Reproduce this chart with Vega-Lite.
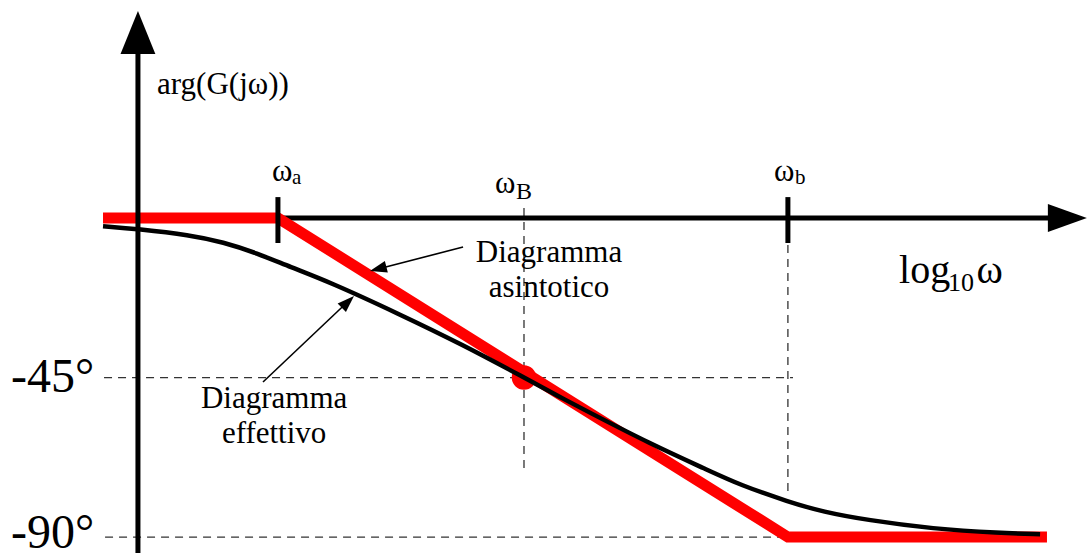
{
  "$schema": "https://vega.github.io/schema/vega-lite/v6.json",
  "width": 1087,
  "height": 553,
  "padding": 0,
  "autosize": {"type": "none"},
  "config": {"view": {"stroke": null}, "text": {"font": "Liberation Serif", "baseline": "alphabetic", "color": "#000000"}},
  "datasets": {
    "asym": [
      {"w": -1.651, "phase": 0},
      {"w": -0.965, "phase": 0},
      {"w": 1.035, "phase": -90},
      {"w": 2.051, "phase": -90}
    ],
    "real": [
      {"w": -1.651, "phase": -2.3},
      {"w": -1.514, "phase": -3.1},
      {"w": -1.31, "phase": -4.8},
      {"w": -1.18, "phase": -6.8},
      {"w": -1.047, "phase": -9.9},
      {"w": -0.918, "phase": -13.8},
      {"w": -0.761, "phase": -18.1},
      {"w": -0.498, "phase": -26.8},
      {"w": -0.239, "phase": -35.8},
      {"w": 0, "phase": -45},
      {"w": 0.141, "phase": -50.5},
      {"w": 0.239, "phase": -54.2},
      {"w": 0.498, "phase": -63.8},
      {"w": 0.718, "phase": -71.0},
      {"w": 0.847, "phase": -75.3},
      {"w": 1.039, "phase": -80.1},
      {"w": 1.173, "phase": -82.9},
      {"w": 1.345, "phase": -85.2},
      {"w": 1.604, "phase": -87.7},
      {"w": 1.867, "phase": -88.9},
      {"w": 2.024, "phase": -89.2}
    ],
    "axes": [
      {"w": -1.514, "phase": -94.5, "w2": -1.514, "phase2": 46.3},
      {"w": -1.514, "phase": 0, "w2": 2.063, "phase2": 0}
    ],
    "ticks": [
      {"w": -0.965, "phase": 5.9, "w2": -0.965, "phase2": -7.05},
      {"w": 1.035, "phase": 5.9, "w2": 1.035, "phase2": -7.05}
    ],
    "guides": [
      {"w": -1.647, "phase": -45, "w2": 1.055, "phase2": -45},
      {"w": -1.643, "phase": -90, "w2": 1.035, "phase2": -90},
      {"w": 0, "phase": 2.82, "w2": 0, "phase2": -71.66},
      {"w": 1.035, "phase": -7.62, "w2": 1.035, "phase2": -78.15}
    ],
    "pointers": [
      {"w": -0.239, "phase": -8.18, "w2": -0.565, "phase2": -14.25},
      {"w": -1.0235, "phase": -46.27, "w2": -0.686, "phase2": -23.28}
    ],
    "dot": [{"w": 0, "phase": -45}],
    "heads": [
      {"name": "y", "w": -1.514, "phase": 52.34},
      {"name": "x", "w": 2.131, "phase": 0},
      {"name": "a", "w": -0.572, "phase": -14.36},
      {"name": "e", "w": -0.6906, "phase": -23.67}
    ],
    "labels": [
      {"role": "title", "label": "arg(G(jω))", "w": -1.439, "phase": 35.0},
      {"role": "omega", "label": "ω", "w": -0.988, "phase": 10.44},
      {"role": "sub", "label": "a", "w": -0.91, "phase": 9.59},
      {"role": "omega", "label": "ω", "w": -0.114, "phase": 7.05},
      {"role": "subB", "label": "B", "w": -0.031, "phase": 5.36},
      {"role": "omega", "label": "ω", "w": 0.98, "phase": 10.44},
      {"role": "sub", "label": "b", "w": 1.063, "phase": 9.59},
      {"role": "log", "label": "log", "w": 1.471, "phase": -18.34},
      {"role": "sub10", "label": "10", "w": 1.663, "phase": -20.6},
      {"role": "log", "label": "ω", "w": 1.775, "phase": -18.34},
      {"role": "deg", "label": "-45°", "w": -2.012, "phase": -49.09},
      {"role": "deg", "label": "-90°", "w": -2.012, "phase": -93.1},
      {"role": "note", "label": "Diagramma", "w": 0.098, "phase": -12.41},
      {"role": "note", "label": "asintotico", "w": 0.098, "phase": -22.29},
      {"role": "note", "label": "Diagramma", "w": -0.98, "phase": -53.6},
      {"role": "note", "label": "effettivo", "w": -0.98, "phase": -63.48}
    ]
  },
  "encoding": {
    "x": {"field": "w", "type": "quantitative", "scale": {"domain": [-2.055, 2.208], "nice": false, "zero": false}, "axis": null},
    "y": {"field": "phase", "type": "quantitative", "scale": {"domain": [-94.5, 61.5], "nice": false, "zero": false}, "axis": null}
  },
  "layer": [
    {
      "data": {"name": "guides"},
      "mark": {"type": "rule", "stroke": "#333333", "strokeWidth": 1.3, "strokeDash": [8, 6]},
      "encoding": {"x2": {"field": "w2"}, "y2": {"field": "phase2"}}
    },
    {
      "data": {"name": "axes"},
      "transform": [{"filter": "datum.phase2 == 0"}],
      "mark": {"type": "rule", "stroke": "#000000", "strokeWidth": 5},
      "encoding": {"x2": {"field": "w2"}, "y2": {"field": "phase2"}}
    },
    {
      "data": {"name": "asym"},
      "mark": {"type": "line", "stroke": "#ff0000", "strokeWidth": 11, "strokeJoin": "miter", "strokeCap": "butt"},
      "encoding": {}
    },
    {
      "data": {"name": "dot"},
      "mark": {"type": "point", "shape": "circle", "filled": true, "color": "#ff0000", "opacity": 1, "size": 600},
      "encoding": {}
    },
    {
      "data": {"name": "real"},
      "mark": {"type": "line", "stroke": "#000000", "strokeWidth": 4.5, "interpolate": "basis"},
      "encoding": {}
    },
    {
      "data": {"name": "axes"},
      "transform": [{"filter": "datum.phase2 != 0"}],
      "mark": {"type": "rule", "stroke": "#000000", "strokeWidth": 5},
      "encoding": {"x2": {"field": "w2"}, "y2": {"field": "phase2"}}
    },
    {
      "data": {"name": "ticks"},
      "mark": {"type": "rule", "stroke": "#000000", "strokeWidth": 5},
      "encoding": {"x2": {"field": "w2"}, "y2": {"field": "phase2"}}
    },
    {
      "data": {"name": "pointers"},
      "mark": {"type": "rule", "stroke": "#000000", "strokeWidth": 1.6},
      "encoding": {"x2": {"field": "w2"}, "y2": {"field": "phase2"}}
    },
    {
      "data": {"name": "heads"},
      "transform": [{"filter": "datum.name == 'y'"}],
      "mark": {"type": "point", "shape": "M0,-1L-0.81,1L0.81,1Z", "size": 1849, "filled": true, "color": "#000000", "opacity": 1},
      "encoding": {}
    },
    {
      "data": {"name": "heads"},
      "transform": [{"filter": "datum.name == 'x'"}],
      "mark": {"type": "point", "shape": "M1,0L-1,-0.72L-1,0.72Z", "size": 1521, "filled": true, "color": "#000000", "opacity": 1},
      "encoding": {}
    },
    {
      "data": {"name": "heads"},
      "transform": [{"filter": "datum.name == 'a'"}],
      "mark": {"type": "point", "shape": "M1,0L-1,-0.7L-1,0.7Z", "size": 289, "angle": 165.5, "filled": true, "color": "#000000", "opacity": 1},
      "encoding": {}
    },
    {
      "data": {"name": "heads"},
      "transform": [{"filter": "datum.name == 'e'"}],
      "mark": {"type": "point", "shape": "M1,0L-1,-0.7L-1,0.7Z", "size": 289, "angle": 316, "filled": true, "color": "#000000", "opacity": 1},
      "encoding": {}
    },
    {
      "data": {"name": "labels"},
      "transform": [{"filter": "datum.role == 'title'"}],
      "mark": {"type": "text", "fontSize": 31, "align": "left"},
      "encoding": {"text": {"field": "label"}}
    },
    {
      "data": {"name": "labels"},
      "transform": [{"filter": "datum.role == 'omega'"}],
      "mark": {"type": "text", "fontSize": 31, "align": "left"},
      "encoding": {"text": {"field": "label"}}
    },
    {
      "data": {"name": "labels"},
      "transform": [{"filter": "datum.role == 'sub'"}],
      "mark": {"type": "text", "fontSize": 21, "align": "left"},
      "encoding": {"text": {"field": "label"}}
    },
    {
      "data": {"name": "labels"},
      "transform": [{"filter": "datum.role == 'subB'"}],
      "mark": {"type": "text", "fontSize": 24, "align": "left"},
      "encoding": {"text": {"field": "label"}}
    },
    {
      "data": {"name": "labels"},
      "transform": [{"filter": "datum.role == 'log'"}],
      "mark": {"type": "text", "fontSize": 40, "align": "left"},
      "encoding": {"text": {"field": "label"}}
    },
    {
      "data": {"name": "labels"},
      "transform": [{"filter": "datum.role == 'sub10'"}],
      "mark": {"type": "text", "fontSize": 26, "align": "left"},
      "encoding": {"text": {"field": "label"}}
    },
    {
      "data": {"name": "labels"},
      "transform": [{"filter": "datum.role == 'deg'"}],
      "mark": {"type": "text", "fontSize": 48, "align": "left"},
      "encoding": {"text": {"field": "label"}}
    },
    {
      "data": {"name": "labels"},
      "transform": [{"filter": "datum.role == 'note'"}],
      "mark": {"type": "text", "fontSize": 31, "align": "center"},
      "encoding": {"text": {"field": "label"}}
    }
  ]
}
